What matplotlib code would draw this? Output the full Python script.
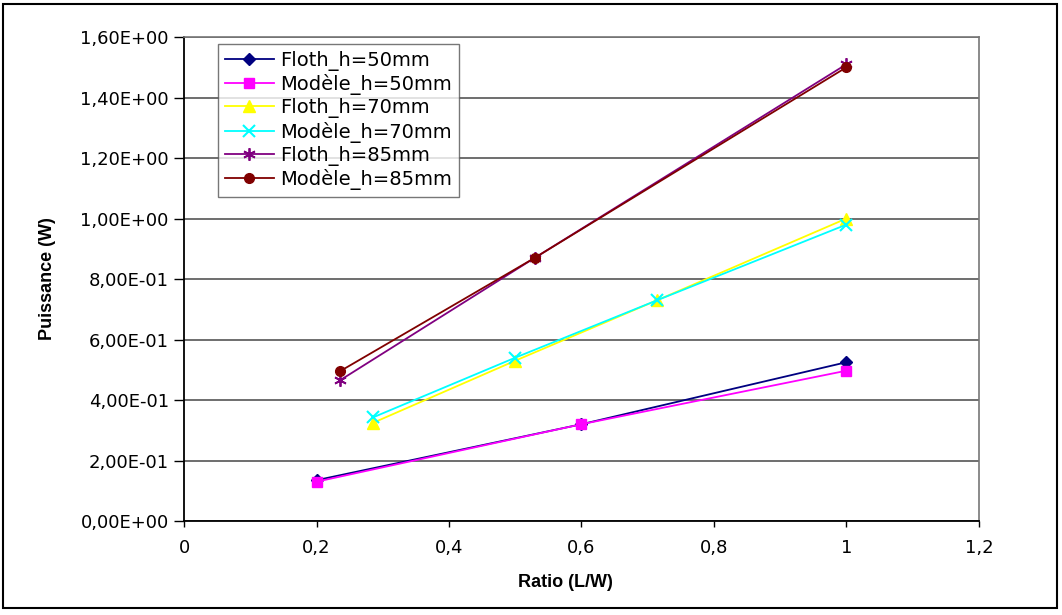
import matplotlib
matplotlib.use('Agg')
import matplotlib.pyplot as plt
from matplotlib.ticker import FuncFormatter, MultipleLocator
from matplotlib.patches import Rectangle

plt.rcParams['font.family'] = ['DejaVu Sans']

# data
x_50 = [0.2, 0.6, 1.0]
floth_50 = [0.135, 0.32, 0.525]
modele_50 = [0.13, 0.32, 0.497]

x_70 = [0.2857, 0.5, 0.7143, 1.0]
floth_70 = [0.325, 0.53, 0.73, 1.0]
modele_70 = [0.343, 0.54, 0.73, 0.98]

x_85 = [0.2353, 0.5294, 1.0]
floth_85 = [0.465, 0.87, 1.51]
modele_85 = [0.495, 0.87, 1.50]

series = [
    ('Floth_h=50mm', x_50, floth_50, '#000080', 'D', 6),
    ('Modèle_h=50mm', x_50, modele_50, '#FF00FF', 's', 7),
    ('Floth_h=70mm', x_70, floth_70, '#FFFF00', '^', 8),
    ('Modèle_h=70mm', x_70, modele_70, '#00FFFF', 'x', 8),
    ('Floth_h=85mm', x_85, floth_85, '#800080', '*', 0),
    ('Modèle_h=85mm', x_85, modele_85, '#800000', 'o', 7),
]

fig = plt.figure(figsize=(10.62, 6.15), dpi=100)
ax = fig.add_axes([0.1733, 0.1528, 0.7485, 0.787])

for label, xs, ys, col, mk, ms in series:
    if mk == '*':
        # asterisk-like marker
        ax.plot(xs, ys, color=col, lw=1.3, marker=(6, 2, 0), ms=9, mew=1.3,
                label=label, zorder=3)
    elif mk == 'x':
        ax.plot(xs, ys, color=col, lw=1.3, marker='x', ms=ms, mew=1.5,
                label=label, zorder=3)
    else:
        ax.plot(xs, ys, color=col, lw=1.3, marker=mk, ms=ms, mec=col, mfc=col,
                label=label, zorder=3)

ax.set_xlim(0, 1.2)
ax.set_ylim(0, 1.6)
ax.xaxis.set_major_locator(MultipleLocator(0.2))
ax.yaxis.set_major_locator(MultipleLocator(0.2))


def xfmt(v, pos):
    s = ('%.1f' % v)
    if s.endswith('.0'):
        s = s[:-2]
    return s.replace('.', ',')


def yfmt(v, pos):
    return ('%.2E' % v).replace('.', ',')


ax.xaxis.set_major_formatter(FuncFormatter(xfmt))
ax.yaxis.set_major_formatter(FuncFormatter(yfmt))
ax.tick_params(axis='y', direction='out', length=7, width=1, labelsize=13, pad=4)
ax.tick_params(axis='x', direction='out', length=4, width=1, labelsize=13, pad=9)
ax.yaxis.grid(True, color='#555555', lw=1.2)
ax.set_axisbelow(True)

for s in ['top', 'right']:
    ax.spines[s].set_color('#777777')
    ax.spines[s].set_linewidth(1.2)
for s in ['left', 'bottom']:
    ax.spines[s].set_color('black')
    ax.spines[s].set_linewidth(1.3)

ax.set_xlabel('Ratio (L/W)', fontsize=13, fontweight='bold',
              family=['Liberation Sans', 'DejaVu Sans'], va='center')
ax.xaxis.set_label_coords(0.48, -0.126)
ax.set_ylabel('Puissance (W)', fontsize=13, fontweight='bold',
              family=['Liberation Sans', 'DejaVu Sans'], va='center')
ax.yaxis.set_label_coords(-0.172, 0.5)

leg = ax.legend(loc='upper left', bbox_to_anchor=(0.043, 0.986), fontsize=14,
                frameon=True, fancybox=False, edgecolor='#555555',
                handlelength=2.5, labelspacing=0.17, borderpad=0.35,
                handletextpad=0.35, borderaxespad=0)
leg.get_frame().set_linewidth(1.0)

fig.patches.append(Rectangle((0.003, 0.012), 0.992, 0.982, transform=fig.transFigure,
                             fill=False, edgecolor='black', lw=1.5))

fig.savefig('out.png', dpi=100)
